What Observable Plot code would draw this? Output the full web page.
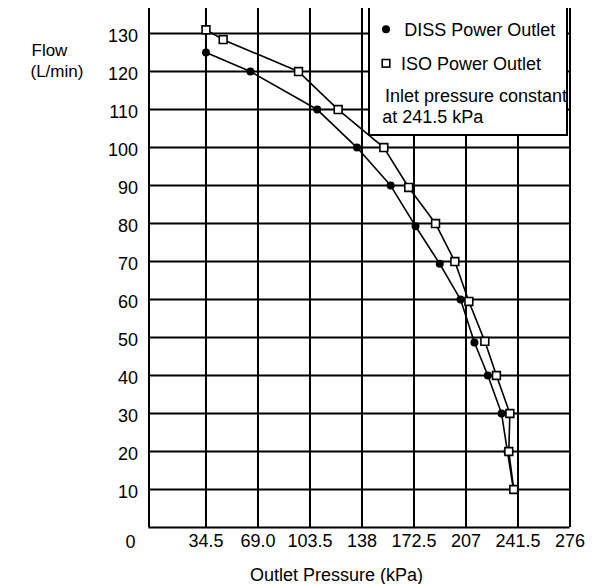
<!DOCTYPE html>
<html>
<head>
<meta charset="utf-8">
<script src="https://cdn.jsdelivr.net/npm/d3@7"></script>
<script src="https://cdn.jsdelivr.net/npm/@observablehq/plot@0.6"></script>
<style>
  html, body { margin: 0; padding: 0; background: white; }
  #wrap { position: relative; width: 594px; height: 584px; font-family: "Liberation Sans", Arial, Helvetica, sans-serif; }
  #legend { position: absolute; left: 368px; top: 8px; overflow: visible; }
</style>
</head>
<body>
<div id="wrap"></div>
<script>
// ---- data ----
const xTicks = [34.5, 69.0, 103.5, 138, 172.5, 207, 241.5, 276];
const xTickLabels = ["34.5", "69.0", "103.5", "138", "172.5", "207", "241.5", "276"];
const yTicks = [10, 20, 30, 40, 50, 60, 70, 80, 90, 100, 110, 120, 130];

const dissPressure = [34.5, 64, 108.3, 134.7, 157, 173.5, 189.6, 203.4, 212.6, 221.5, 230.6, 234.5, 238.5];
const dissFlow     = [125, 120, 110, 100, 90, 79.3, 69.4, 60, 48.7, 40, 30, 20, 10];

const isoPressure = [34.5, 45.9, 95.9, 122.2, 152.5, 169, 186.8, 199.6, 208.9, 219.5, 227.2, 236.1, 235.4, 238.7];
const isoFlow     = [131, 128.4, 120, 110, 100, 89.5, 80, 70, 59.5, 49, 40, 30, 20, 10];

const seriesNames = ["DISS Power Outlet", "ISO Power Outlet"];
const noteLines = ["Inlet pressure constant", "at 241.5 kPa"];
const xTitle = "Outlet Pressure (kPa)";
const yTitleLines = ["Flow", "(L/min)"];

const diss = dissPressure.map((p, i) => ({p, f: dissFlow[i]}));
const iso = isoPressure.map((p, i) => ({p, f: isoFlow[i]}));

const xDomain = [-3.3, 276];
const yDomain = [0, 136.6];

const chart = Plot.plot({
  width: 594,
  height: 584,
  marginLeft: 148.5,
  marginRight: 24.5,
  marginTop: 8,
  marginBottom: 57,
  x: {domain: xDomain, label: null},
  y: {domain: yDomain, label: null},
  style: {fontFamily: '"Liberation Sans", Arial, Helvetica, sans-serif', fontSize: "18px", color: "black", background: "white"},
  marks: [
    Plot.ruleX(xTicks, {stroke: "black", strokeWidth: 2}),
    Plot.ruleY(yTicks, {stroke: "black", strokeWidth: 2}),
    Plot.ruleX([xDomain[0]], {stroke: "black", strokeWidth: 2}),
    Plot.ruleY([0], {stroke: "black", strokeWidth: 2.2}),
    Plot.axisX(xTicks, {tickSize: 0, tickPadding: 6.5, tickFormat: d => xTickLabels[xTicks.indexOf(d)], fontSize: 18}),
    Plot.axisY(yTicks, {tickSize: 0, tickPadding: 11, dy: 3, fontSize: 18}),
    Plot.text([0], {x: d => d, y: () => 0, text: d => String(d), dx: -23.5, dy: 15, lineAnchor: "middle", fontSize: 18}),
    Plot.text([xTitle], {frameAnchor: "bottom", dx: -23, dy: 48, lineAnchor: "middle", fontSize: 18}),
    Plot.text([yTitleLines[0]], {frameAnchor: "top-left", textAnchor: "start", dx: -117.5, dy: 42, lineAnchor: "middle", fontSize: 17}),
    Plot.text([yTitleLines[1]], {frameAnchor: "top-left", textAnchor: "start", dx: -118.5, dy: 63, lineAnchor: "middle", fontSize: 17}),
    Plot.line(diss, {x: "p", y: "f", stroke: "black", strokeWidth: 1.6}),
    Plot.line(iso, {x: "p", y: "f", stroke: "black", strokeWidth: 1.6}),
    Plot.dot(diss, {x: "p", y: "f", r: 4, fill: "black", stroke: "none"}),
    Plot.dot(iso, {x: "p", y: "f", r: 4.4, symbol: "square", fill: "white", stroke: "black", strokeWidth: 1.6})
  ]
});

const wrap = document.getElementById("wrap");
wrap.appendChild(chart);

// legend overlay
const lg = d3.select(wrap).append("svg").attr("id", "legend").attr("width", 200).attr("height", 128)
  .style("font-family", '"Liberation Sans", Arial, Helvetica, sans-serif').style("font-size", "18px");
lg.append("rect").attr("x", 0).attr("y", 0).attr("width", 200).attr("height", 128).attr("fill", "white");
lg.append("line").attr("x1", 1).attr("x2", 1).attr("y1", 0).attr("y2", 128).attr("stroke", "black").attr("stroke-width", 2);
lg.append("line").attr("x1", 199).attr("x2", 199).attr("y1", 0).attr("y2", 128).attr("stroke", "black").attr("stroke-width", 2);
lg.append("line").attr("x1", 0).attr("x2", 200).attr("y1", 127).attr("y2", 127).attr("stroke", "black").attr("stroke-width", 2);
lg.append("circle").attr("cx", 18).attr("cy", 21.3).attr("r", 4).attr("fill", "black");
lg.append("text").attr("x", 36.3).attr("y", 27.8).text(seriesNames[0]);
lg.append("rect").attr("x", 14.2).attr("y", 51.5).attr("width", 7.6).attr("height", 7.6).attr("fill", "white").attr("stroke", "black").attr("stroke-width", 1.6);
lg.append("text").attr("x", 33).attr("y", 61.8).text(seriesNames[1]);
lg.append("text").attr("x", 17).attr("y", 93.5).text(noteLines[0]);
lg.append("text").attr("x", 14.3).attr("y", 115.2).text(noteLines[1]);
</script>
</body>
</html>
